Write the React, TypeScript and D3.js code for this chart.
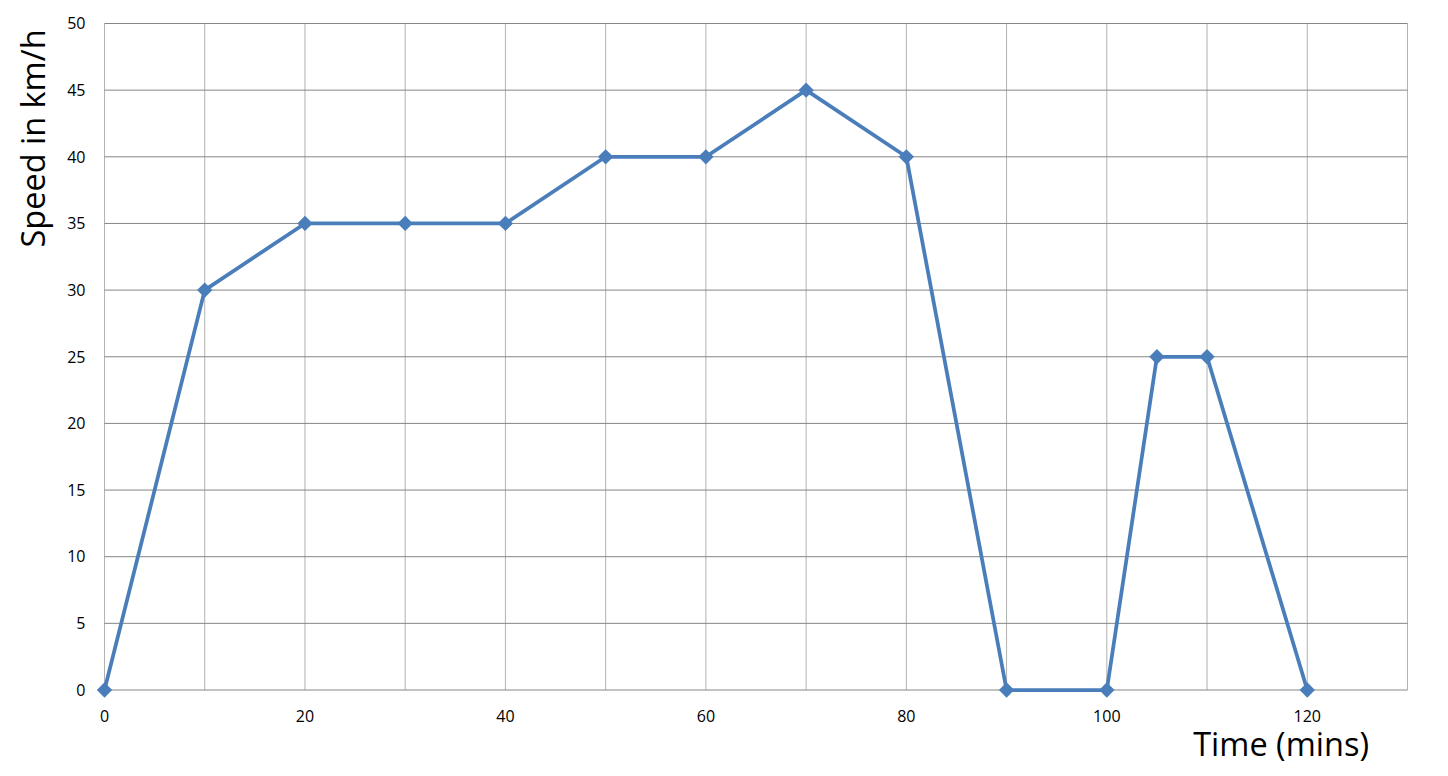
import React, { useEffect, useRef } from "react";
import * as d3 from "d3";

const times = [0, 10, 20, 30, 40, 50, 60, 70, 80, 90, 100, 105, 110, 120];
const speeds = [0, 30, 35, 35, 35, 40, 40, 45, 40, 0, 0, 25, 25, 0];
const xTickLabels = [0, 20, 40, 60, 80, 100, 120];
const xGridValues = [0, 10, 20, 30, 40, 50, 60, 70, 80, 90, 100, 110, 120, 130];
const yTickValues = [0, 5, 10, 15, 20, 25, 30, 35, 40, 45, 50];

const App = () => {
  const svgRef = useRef<SVGSVGElement>(null);

  useEffect(() => {
    const root = d3.select(svgRef.current);
    root.selectAll("*").remove();

    const width = 1448;
    const height = 776;
    const margin = { top: 23.5, right: 40.5, bottom: 86, left: 104.5 };
    const w = width - margin.left - margin.right;
    const h = height - margin.top - margin.bottom;
    const font = "'Open Sans', 'Noto Sans', sans-serif";

    const svg = root
      .attr("width", width)
      .attr("height", height)
      .append("g")
      .attr("transform", `translate(${margin.left},${margin.top})`);

    const x = d3.scaleLinear().domain([0, 130]).range([0, w]);
    const y = d3.scaleLinear().domain([0, 50]).range([h, 0]);

    // vertical grid
    svg
      .selectAll(".vgrid")
      .data(xGridValues)
      .enter()
      .append("line")
      .attr("x1", (d) => x(d))
      .attr("x2", (d) => x(d))
      .attr("y1", 0)
      .attr("y2", h)
      .attr("stroke", "#b3b3b3")
      .attr("stroke-width", 1);

    // horizontal grid
    svg
      .selectAll(".hgrid")
      .data(yTickValues)
      .enter()
      .append("line")
      .attr("x1", 0)
      .attr("x2", w)
      .attr("y1", (d) => y(d))
      .attr("y2", (d) => y(d))
      .attr("stroke", "#868686")
      .attr("stroke-width", 1);

    // y tick labels
    svg
      .selectAll(".ylab")
      .data(yTickValues)
      .enter()
      .append("text")
      .attr("x", -19)
      .attr("y", (d) => y(d))
      .attr("dy", "0.36em")
      .attr("text-anchor", "end")
      .attr("font-family", font)
      .attr("font-size", 16)
      .attr("fill", "#000")
      .text((d) => d);

    // x tick labels
    svg
      .selectAll(".xlab")
      .data(xTickLabels)
      .enter()
      .append("text")
      .attr("x", (d) => x(d))
      .attr("y", h + 32)
      .attr("text-anchor", "middle")
      .attr("font-family", font)
      .attr("font-size", 16)
      .attr("fill", "#000")
      .text((d) => d);

    const points = times.map((t, i) => [t, speeds[i]] as [number, number]);

    const line = d3
      .line<[number, number]>()
      .x((d) => x(d[0]))
      .y((d) => y(d[1]));

    svg
      .append("path")
      .datum(points)
      .attr("d", line)
      .attr("fill", "none")
      .attr("stroke", "#4a7ebb")
      .attr("stroke-width", 3.75)
      .attr("stroke-linejoin", "round");

    const diamond = d3.symbol().type(d3.symbolDiamond2).size(150);
    svg
      .selectAll(".marker")
      .data(points)
      .enter()
      .append("path")
      .attr("d", diamond)
      .attr("transform", (d) => `translate(${x(d[0])},${y(d[1])})`)
      .attr("fill", "#4a7ebb");

    // axis titles
    svg
      .append("text")
      .attr("transform", `translate(${45 - margin.left},${138.5 - margin.top}) rotate(-90)`)
      .attr("text-anchor", "middle")
      .attr("font-family", font)
      .attr("font-size", 32.5)
      .attr("fill", "#000")
      .text("Speed in km/h");

    svg
      .append("text")
      .attr("x", 1369 - margin.left)
      .attr("y", 756 - margin.top)
      .attr("text-anchor", "end")
      .attr("font-family", font)
      .attr("font-size", 32.5)
      .attr("fill", "#000")
      .text("Time (mins)");
  }, []);

  return (
    <svg
      ref={svgRef}
      style={{ position: "absolute", left: 0, top: 0, display: "block" }}
    ></svg>
  );
};

export default App;
